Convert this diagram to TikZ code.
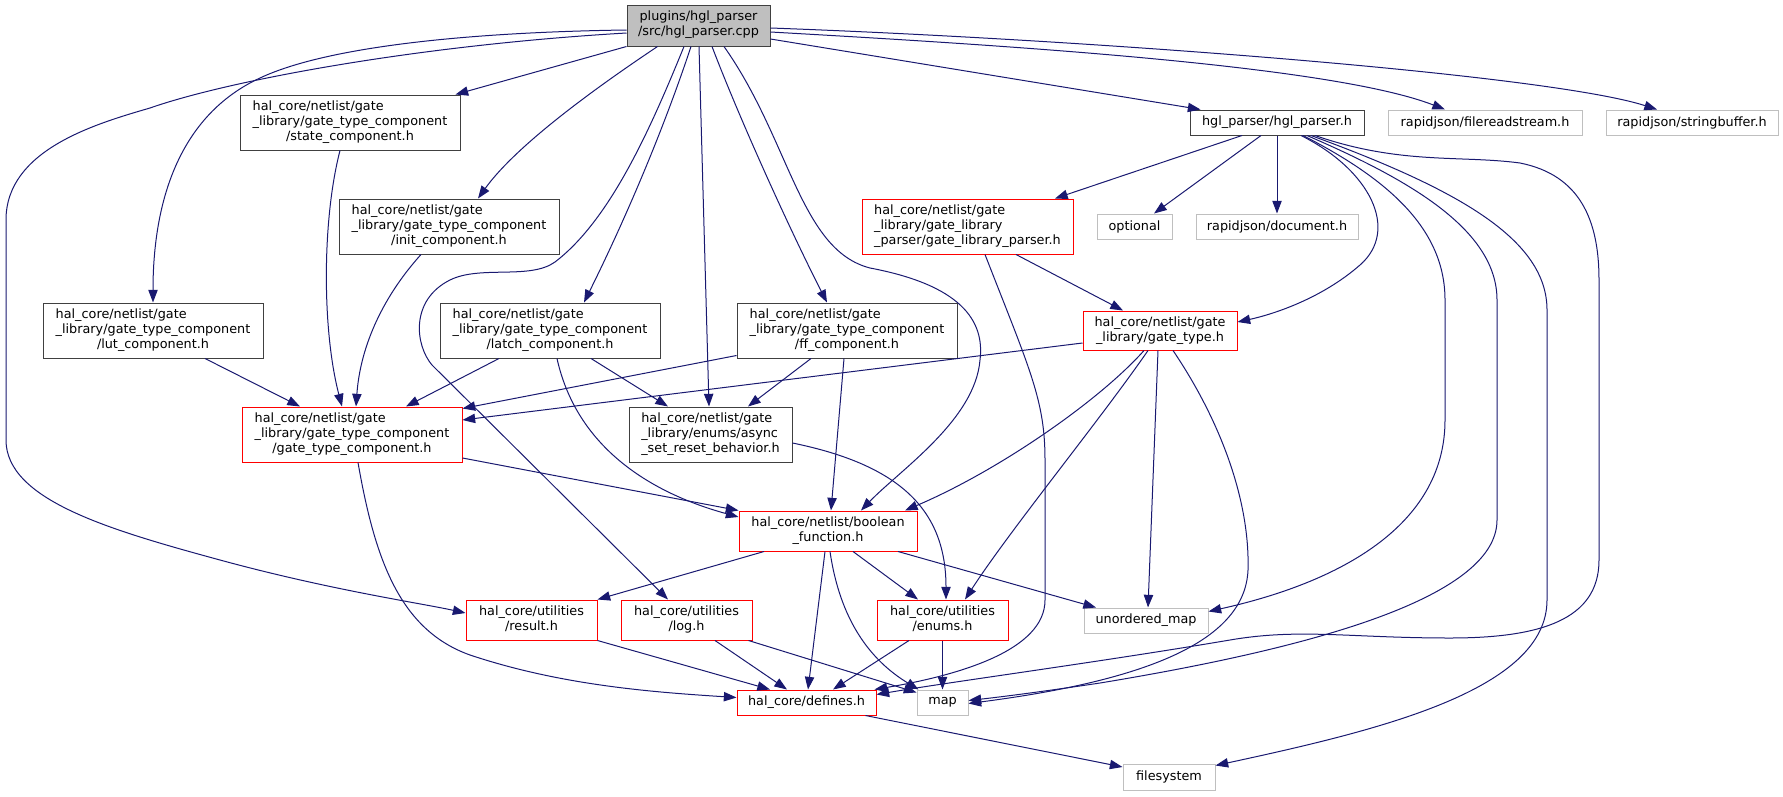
\documentclass[tikz,border=0pt]{standalone}
\usepackage{fontspec}
\setmainfont{DejaVu Sans}
\usetikzlibrary{arrows.meta,calc}
\definecolor{edgec}{HTML}{191970}
\definecolor{gdark}{HTML}{404040}
\definecolor{glight}{HTML}{BFBFBF}
\definecolor{nred}{HTML}{FF0000}
\newcommand{\threel}[3]{\begin{tabular}{@{}l@{}}#1\\#2\\\multicolumn{1}{@{}c@{}}{#3}\end{tabular}}
\newcommand{\twoc}[2]{\begin{tabular}{@{}c@{}}#1\\#2\end{tabular}}
\tikzset{
  sz/.style 2 args={minimum width=#1*0.75pt, minimum height=#2*0.75pt},
  nd/.style={rectangle, inner sep=0pt, line width=0.75pt, fill=white, text=black,
     font=\fontsize{9.6}{11.25}\selectfont},
  bk/.style={nd, draw=gdark},
  rd/.style={nd, draw=nred},
  gy/.style={nd, draw=glight},
  e/.style={draw=edgec, line width=0.75pt, -{Triangle[length=9.5pt,width=7pt]}, fill=none}
}
\begin{document}
\begin{tikzpicture}[x=0.75pt, y=-0.75pt]
\useasboundingbox (0,0) rectangle (1783,796);
% nodes
\node[bk, fill=glight, sz={143}{41}] (root) at (698.5,25.5) {\twoc{plugins/hgl\_parser}{/src/hgl\_parser.cpp}};
\node[bk, sz={220}{55}] (state) at (350,122.5) {\threel{hal\_core/netlist/gate}{\_library/gate\_type\_component}{/state\_component.h}};
\node[bk, sz={220}{55}] (init) at (449,226.5) {\threel{hal\_core/netlist/gate}{\_library/gate\_type\_component}{/init\_component.h}};
\node[bk, sz={220}{55}] (lut) at (153,330.5) {\threel{hal\_core/netlist/gate}{\_library/gate\_type\_component}{/lut\_component.h}};
\node[bk, sz={220}{55}] (latch) at (550,330.5) {\threel{hal\_core/netlist/gate}{\_library/gate\_type\_component}{/latch\_component.h}};
\node[bk, sz={220}{55}] (ff) at (847,330.5) {\threel{hal\_core/netlist/gate}{\_library/gate\_type\_component}{/ff\_component.h}};
\node[rd, sz={220}{55}] (gtc) at (352,434.5) {\threel{hal\_core/netlist/gate}{\_library/gate\_type\_component}{/gate\_type\_component.h}};
\node[bk, sz={163}{55}] (async) at (710.5,434.5) {\threel{hal\_core/netlist/gate}{\_library/enums/async}{\_set\_reset\_behavior.h}};
\node[rd, sz={211}{55}] (glp) at (967.5,226.5) {\threel{hal\_core/netlist/gate}{\_library/gate\_library}{\_parser/gate\_library\_parser.h}};
\node[rd, sz={154}{39}] (gt) at (1160,330.5) {\twoc{hal\_core/netlist/gate}{\_library/gate\_type.h}};
\node[bk, sz={174}{25}] (hgl) at (1277,122.5) {hgl\_parser/hgl\_parser.h};
\node[gy, sz={194}{25}] (frs) at (1485,122.5) {rapidjson/filereadstream.h};
\node[gy, sz={172}{25}] (sb) at (1692,122.5) {rapidjson/stringbuffer.h};
\node[gy, sz={75}{25}] (opt) at (1134.5,226.5) {optional};
\node[gy, sz={162}{25}] (doc) at (1277,226.5) {rapidjson/document.h};
\node[rd, sz={178}{40}] (bf) at (828,531) {\twoc{hal\_core/netlist/boolean}{\_function.h}};
\node[rd, sz={131}{40}] (res) at (531.5,620) {\twoc{hal\_core/utilities}{/result.h}};
\node[rd, sz={131}{40}] (log) at (686.5,620) {\twoc{hal\_core/utilities}{/log.h}};
\node[rd, sz={131}{40}] (enums) at (942.5,620) {\twoc{hal\_core/utilities}{/enums.h}};
\node[gy, sz={124}{25}] (um) at (1146,620.5) {unordered\_map};
\node[rd, sz={139}{25}] (def) at (806.5,702.5) {hal\_core/defines.h};
\node[gy, sz={51}{25}] (map) at (942.5,702.5) {map};
\node[gy, sz={92}{26}] (fs) at (1169,777) {filesystem};
% root edges
\draw[e] ($(root.west)+(0,4.5)$) .. controls (480,32) and (330,45) .. (260,78) .. controls (180,115) and (153,200) .. (lut.north);
\draw[e] ($(root.west)+(0,7.5)$) .. controls (420,45) and (230,80) .. (150,108) .. controls (95,124) and (6,150) .. (6,220) -- (6,440) .. controls (6,500) and (110,530) .. (220,560) .. controls (330,590) and (420,603) .. ($(res.west)+(0,-7)$);
\draw[e] (root.south west) -- ($(state.north east)+(-5,0)$);
\draw[e] ($(root.south west)+(31,0)$) .. controls (615,75) and (520,140) .. ($(init.north)+(29,0)$);
\draw[e] ($(root.south)+(-14.5,0)$) .. controls (650,130) and (610,220) .. (555,262) .. controls (530,280) and (480,265) .. (450,280) .. controls (410,300) and (415,345) .. (432,365) -- ($(log.north)+(-18.5,0)$);
\draw[e] ($(root.south)+(-7.5,0)$) .. controls (660,140) and (620,230) .. ($(latch.north)+(34,0)$);
\draw[e] ($(root.south)+(0.5,0)$) -- ($(async.north)+(-1.5,0)$);
\draw[e] ($(root.south)+(13.5,0)$) .. controls (740,120) and (790,230) .. ($(ff.north)+(-20,0)$);
\draw[e] ($(root.south)+(25.5,0)$) .. controls (790,140) and (800,250) .. (870,268) .. controls (960,285) and (985,320) .. (980,360) .. controls (975,420) and (900,470) .. ($(bf.north)+(33,0)$);
\draw[e] ($(root.east)+(0,13.5)$) -- ($(hgl.north west)+(11,0)$);
\draw[e] ($(root.east)+(0,6.5)$) .. controls (1000,45) and (1330,65) .. ($(frs.north)+(-40,0)$);
\draw[e] ($(root.east)+(0,2.5)$) .. controls (1100,40) and (1550,75) .. ($(sb.north)+(-35,0)$);
% hgl edges
\draw[e] ($(hgl.south)+(-35,0)$) -- ($(glp.north)+(87.5,0)$);
\draw[e] ($(hgl.south)+(-16,0)$) -- ($(opt.north)+(19.5,0)$);
\draw[e] (hgl.south) -- (doc.north);
\draw[e] ($(hgl.south)+(24,0)$) .. controls (1370,170) and (1400,230) .. (1360,265) .. controls (1320,300) and (1270,315) .. ($(gt.east)+(0,-8.5)$);
\draw[e] ($(hgl.south)+(26,0)$) .. controls (1390,180) and (1445,230) .. (1445,300) -- (1445,420) .. controls (1445,520) and (1350,580) .. ($(um.east)+(0,-9)$);
\draw[e] ($(hgl.south)+(30,0)$) .. controls (1410,180) and (1497,230) .. (1497,300) -- (1497,520) .. controls (1497,600) and (1300,650) .. (1100,683) .. controls (1040,692) and (1000,697) .. ($(map.east)+(0,-2)$);
\draw[e] ($(hgl.south)+(34,0)$) .. controls (1460,190) and (1547,240) .. (1547,310) -- (1547,600) .. controls (1547,690) and (1380,730) .. ($(fs.north east)+(0,2)$);
\draw[e] ($(hgl.south)+(38,0)$) .. controls (1400,165) and (1460,155) .. (1520,163) .. controls (1580,175) and (1599,220) .. (1599,280) -- (1599,560) .. controls (1599,620) and (1540,638) .. (1450,638) .. controls (1350,638) and (1300,628) .. (1230,640) .. controls (1100,662) and (950,682) .. ($(def.east)+(0,-8)$);
% glp edges
\draw[e] ($(glp.south)+(48.5,0)$) -- ($(gt.north)+(-37,0)$);
\draw[e] ($(glp.south)+(17.5,0)$) .. controls (1030,370) and (1045,400) .. (1045,460) -- (1045,600) .. controls (1045,650) and (960,675) .. ($(def.north east)+(-2,0)$);
% gate_type.h edges
\draw[e] ($(gt.west)+(0,12.5)$) -- ($(gtc.east)+(0,-14.5)$);
\draw[e] ($(gt.south)+(-16,0)$) .. controls (1100,400) and (1000,470) .. ($(bf.north)+(77,0)$);
\draw[e] ($(gt.south)+(-12,0)$) .. controls (1100,420) and (1010,530) .. ($(enums.north)+(22.5,0)$);
\draw[e] ($(gt.south)+(-2,0)$) -- ($(um.north)+(2,0)$);
\draw[e] ($(gt.south)+(13,0)$) .. controls (1220,420) and (1250,500) .. (1248,570) .. controls (1245,640) and (1150,680) .. ($(map.east)+(0,1)$);
% latch edges
\draw[e] ($(latch.south)+(-51,0)$) -- ($(gtc.north)+(54,0)$);
\draw[e] ($(latch.south)+(41,0)$) -- ($(async.north)+(-42.5,0)$);
\draw[e] ($(latch.south)+(7,0)$) .. controls (575,440) and (640,490) .. ($(bf.west)+(0,-14)$);
% ff edges
\draw[e] ($(ff.south west)+(0,-3)$) -- ($(gtc.east)+(0,-26)$);
\draw[e] ($(ff.south)+(-36,0)$) -- ($(async.north)+(37.5,0)$);
\draw[e] ($(ff.south)+(-3,0)$) -- ($(bf.north)+(3,0)$);
% async
\draw[e] ($(async.east)+(0,8.5)$) .. controls (900,465) and (946,510) .. ($(enums.north)+(3.5,0)$);
% gtc
\draw[e] ($(gtc.east)+(0,23.5)$) -- (bf.north west);
\draw[e] ($(gtc.south)+(6,0)$) .. controls (375,560) and (400,630) .. (470,655) .. controls (560,685) and (650,692) .. ($(def.west)+(0,-5)$);
% lut, state, init
\draw[e] ($(lut.south)+(52,0)$) -- ($(gtc.north)+(-52,0)$);
\draw[e] ($(state.south)+(-10,0)$) .. controls (322,220) and (322,330) .. ($(gtc.north)+(-10,0)$);
\draw[e] ($(init.south)+(-28,0)$) .. controls (380,300) and (360,350) .. ($(gtc.north)+(4,0)$);
% boolean_function
\draw[e] ($(bf.south)+(-64,0)$) -- (res.north east);
\draw[e] ($(bf.south)+(-3,0)$) -- ($(def.north)+(1.5,0)$);
\draw[e] ($(bf.south)+(2,0)$) .. controls (840,620) and (870,660) .. ($(map.north west)+(2,0)$);
\draw[e] ($(bf.south)+(25,0)$) -- ($(enums.north)+(-24.5,0)$);
\draw[e] ($(bf.south)+(70,0)$) -- ($(um.north)+(-50,0)$);
% utilities
\draw[e] (res.south east) -- ($(def.north)+(-36.5,0)$);
\draw[e] ($(log.south)+(28.5,0)$) -- ($(def.north)+(-19.5,0)$);
\draw[e] ($(log.south east)+(-4,0)$) -- ($(map.north west)+(0,3)$);
\draw[e] ($(enums.south)+(-33.5,0)$) -- ($(def.north)+(26.5,0)$);
\draw[e] (enums.south) -- (map.north);
\draw[e] ($(def.south east)+(-11,0)$) -- ($(fs.west)+(0,-10)$);
\end{tikzpicture}
\end{document}
